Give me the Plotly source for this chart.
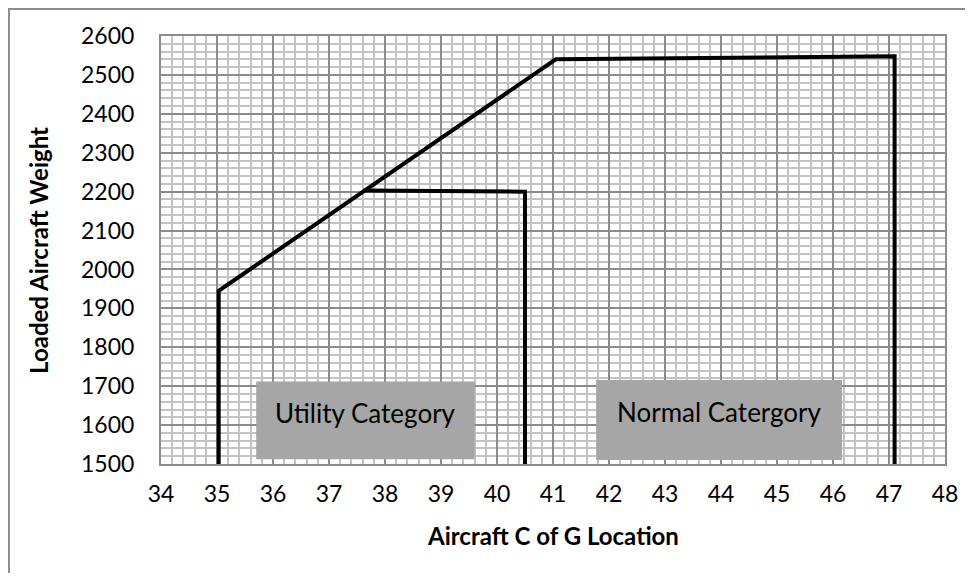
import plotly.graph_objects as go

# Normal category envelope
normal_x = [35.03, 35.03, 41.05, 47.1, 47.1]
normal_y = [1500, 1945, 2540, 2548, 1500]

# Utility category envelope
utility_x = [37.62, 40.5, 40.5]
utility_y = [2203, 2200, 1500]

x_ticks = list(range(34, 49))
y_ticks = list(range(1500, 2700, 100))

# Label boxes (x0, x1, y0, y1, text)
labels = [
    (35.7, 39.6, 1512, 1712, "Utility Category"),
    (41.77, 46.16, 1510, 1716, "Normal Catergory"),
]

FONT = "Lato, 'Open Sans', sans-serif"

fig = go.Figure()
fig.add_trace(go.Scatter(x=normal_x, y=normal_y, mode="lines",
                         line=dict(color="black", width=4), showlegend=False,
                         hoverinfo="skip"))
fig.add_trace(go.Scatter(x=utility_x, y=utility_y, mode="lines",
                         line=dict(color="black", width=4), showlegend=False,
                         hoverinfo="skip"))

shapes = []
annotations = []
for x0, x1, y0, y1, txt in labels:
    shapes.append(dict(type="rect", xref="x", yref="y", x0=x0, x1=x1, y0=y0, y1=y1,
                       fillcolor="#a6a6a6", line=dict(width=0), layer="above"))
    annotations.append(dict(x=(x0 + x1) / 2, y=y0 + (y1 - y0) * 0.6, xref="x", yref="y",
                            text=txt, showarrow=False,
                            xanchor="center", yanchor="middle",
                            font=dict(family=FONT, size=26, color="black")))

# axis titles
annotations.append(dict(x=0.5, y=-0.168, xref="paper", yref="paper",
                        xanchor="center", yanchor="middle",
                        text="<b>Aircraft C of G Location</b>", showarrow=False,
                        font=dict(family=FONT, size=24, color="black")))
annotations.append(dict(x=-0.157, y=0.5, xref="paper", yref="paper", textangle=-90,
                        xanchor="center", yanchor="middle",
                        text="<b>Loaded Aircraft Weight</b>", showarrow=False,
                        font=dict(family=FONT, size=24, color="black")))

# outer chart border
shapes.append(dict(type="rect", xref="paper", yref="paper",
                   x0=-0.194, x1=1.1, y0=-0.3, y1=1.063,
                   line=dict(color="#8c8c8c", width=2), fillcolor="rgba(0,0,0,0)",
                   layer="below"))

fig.update_layout(
    width=965, height=565,
    margin=dict(l=153, r=28, t=28, b=109, autoexpand=False),
    paper_bgcolor="white", plot_bgcolor="white",
    font=dict(family=FONT, size=23, color="black"),
    shapes=shapes, annotations=annotations,
    showlegend=False,
)
fig.update_xaxes(
    range=[34, 48], tickvals=x_ticks, ticktext=[str(v) for v in x_ticks],
    showgrid=True, gridcolor="#8c8c8c", gridwidth=1.5,
    minor=dict(dtick=0.2, showgrid=True, gridcolor="#c3c3c3", gridwidth=1.5),
    showline=True, linecolor="#8c8c8c", linewidth=2, mirror=True,
    zeroline=False, ticks="", ticklabelstandoff=8, automargin=False,
)
fig.update_yaxes(
    range=[1500, 2600], tickvals=y_ticks, ticktext=[str(v) for v in y_ticks],
    showgrid=True, gridcolor="#8c8c8c", gridwidth=1.5,
    minor=dict(dtick=20, showgrid=True, gridcolor="#c3c3c3", gridwidth=1.5),
    showline=True, linecolor="#8c8c8c", linewidth=2, mirror=True,
    zeroline=False, ticks="", ticklabelstandoff=20, automargin=False,
)

fig.write_html("out.html")
